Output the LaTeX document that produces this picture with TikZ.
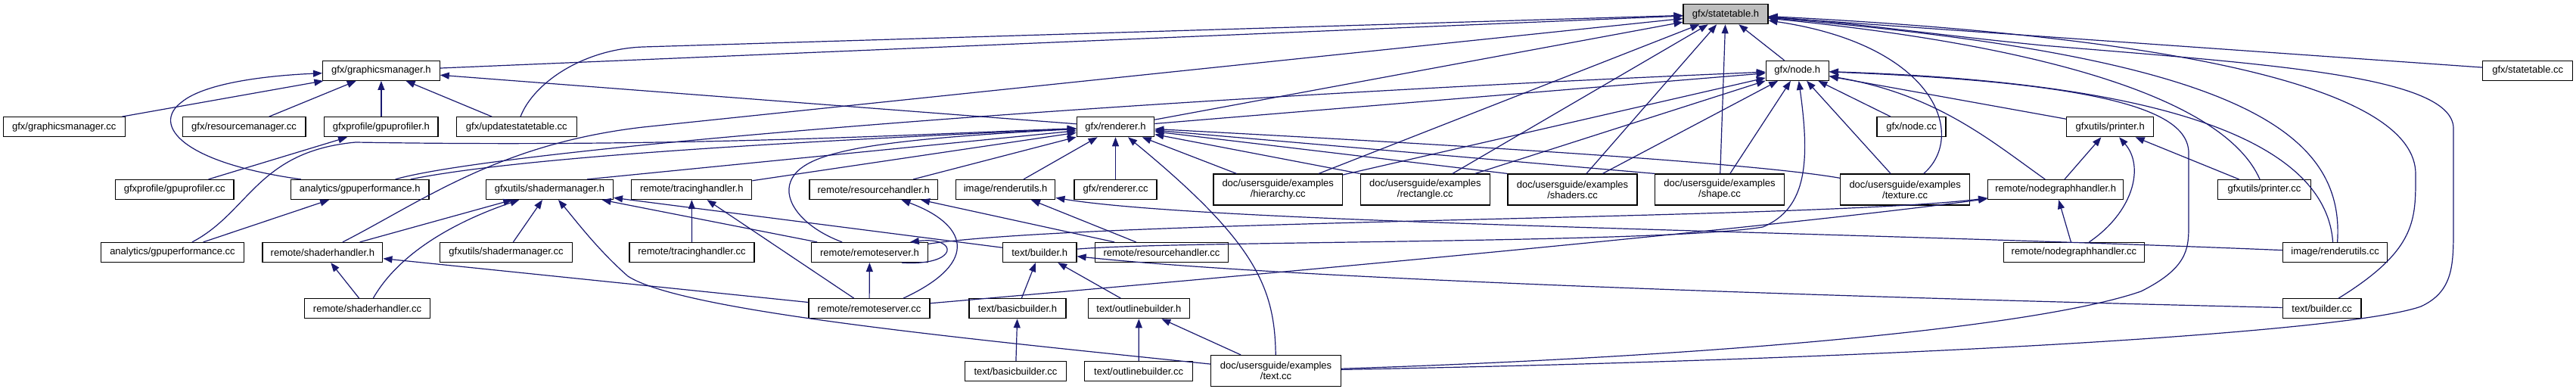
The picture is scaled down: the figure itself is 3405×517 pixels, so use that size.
\documentclass[tikz,border=0pt]{standalone}
\usepackage{fontspec}
\setmainfont{Liberation Sans}
\usetikzlibrary{arrows.meta}
\definecolor{edgec}{HTML}{191970}
\definecolor{rootfill}{HTML}{BFBFBF}
\begin{document}
\begin{tikzpicture}[x=1pt,y=-1pt,font=\fontsize{13}{14}\selectfont,
  nbox/.style={draw=black,fill=white,line width=1.2pt,inner sep=0pt,minimum height=26pt,align=center},
  dbox/.style={nbox,minimum height=41pt},
  conn/.style={draw=edgec,line width=1.2pt,-{Triangle[length=12pt,width=9pt]}}]
\useasboundingbox (0,0) rectangle (3405,517);
% row 0
\node[nbox,fill=rootfill,minimum width=112pt] (st_h) at (2281,18.7) {gfx/statetable.h};
% row 1
\node[nbox,minimum width=154.5pt] (gm_h) at (503.9,93.3) {gfx/graphicsmanager.h};
\node[nbox,minimum width=83pt] (node_h) at (2375.8,93.3) {gfx/node.h};
\node[nbox,minimum width=118.8pt] (st_cc) at (3341.2,93.3) {gfx/statetable.cc};
% row 2
\node[nbox,minimum width=161pt] (gm_cc) at (84.8,167.7) {gfx/graphicsmanager.cc};
\node[nbox,minimum width=162.7pt] (rm_cc) at (322.6,167.7) {gfx/resourcemanager.cc};
\node[nbox,minimum width=150.2pt] (gp_h) at (503.9,167.7) {gfxprofile/gpuprofiler.h};
\node[nbox,minimum width=158.8pt] (us_cc) at (682.8,167.7) {gfx/updatestatetable.cc};
\node[nbox,minimum width=102.4pt] (r_h) at (1474.5,167.7) {gfx/renderer.h};
\node[nbox,minimum width=91pt] (n_cc) at (2526.5,167.7) {gfx/node.cc};
\node[nbox,minimum width=115pt] (p_h) at (2789.2,167.7) {gfxutils/printer.h};
% row 3
\node[nbox,minimum width=156.7pt] (gp_cc) at (230.7,250.5) {gfxprofile/gpuprofiler.cc};
\node[nbox,minimum width=182.7pt] (ga_h) at (475.7,250.5) {analytics/gpuperformance.h};
\node[nbox,minimum width=168pt] (sm_h) at (726.4,250.5) {gfxutils/shadermanager.h};
\node[nbox,minimum width=158.9pt] (th_h) at (914.3,250.5) {remote/tracinghandler.h};
\node[nbox,minimum width=169.3pt] (rh_h) at (1154.7,250.5) {remote/resourcehandler.h};
\node[nbox,minimum width=131.5pt] (ru_h) at (1329.1,250.5) {image/renderutils.h};
\node[nbox,minimum width=109pt] (r_cc) at (1474.5,250.5) {gfx/renderer.cc};
\node[dbox,minimum width=170.3pt] (hier) at (1689.2,250.5) {doc/usersguide/examples\\/hierarchy.cc};
\node[dbox,minimum width=171.3pt] (rect) at (1883.8,250.5) {doc/usersguide/examples\\/rectangle.cc};
\node[dbox,minimum width=171pt] (shad) at (2078.5,250.5) {doc/usersguide/examples\\/shaders.cc};
\node[dbox,minimum width=170.6pt] (shape) at (2273,250.5) {doc/usersguide/examples\\/shape.cc};
\node[dbox,minimum width=171pt] (tex) at (2518.2,250.5) {doc/usersguide/examples\\/texture.cc};
\node[nbox,minimum width=179pt] (ngh_h) at (2717.2,250.5) {remote/nodegraphhandler.h};
\node[nbox,minimum width=122.7pt] (p_cc) at (2993,250.5) {gfxutils/printer.cc};
% row 4
\node[nbox,minimum width=189.1pt] (ga_cc) at (228,333.5) {analytics/gpuperformance.cc};
\node[nbox,minimum width=158.9pt] (sh_h) at (426.4,333.5) {remote/shaderhandler.h};
\node[nbox,minimum width=174.5pt] (sm_cc) at (669,333.5) {gfxutils/shadermanager.cc};
\node[nbox,minimum width=164.9pt] (th_cc) at (914.5,333.5) {remote/tracinghandler.cc};
\node[nbox,minimum width=153.4pt] (rs_h) at (1149.5,333.5) {remote/remoteserver.h};
\node[nbox,minimum width=97.6pt] (b_h) at (1374.2,333.5) {text/builder.h};
\node[nbox,minimum width=176.2pt] (rh_cc) at (1535.5,333.5) {remote/resourcehandler.cc};
\node[nbox,minimum width=186.4pt] (ngh_cc) at (2741.4,333.5) {remote/nodegraphhandler.cc};
\node[nbox,minimum width=138.5pt] (ru_cc) at (3086.6,333.5) {image/renderutils.cc};
% row 5
\node[nbox,minimum width=165.3pt] (sh_cc) at (485.5,407.7) {remote/shaderhandler.cc};
\node[nbox,minimum width=159.9pt] (rs_cc) at (1149,407.7) {remote/remoteserver.cc};
\node[nbox,minimum width=127.9pt] (bb_h) at (1345,407.7) {text/basicbuilder.h};
\node[nbox,minimum width=134.4pt] (ob_h) at (1505.4,407.7) {text/outlinebuilder.h};
\node[nbox,minimum width=103.6pt] (b_cc) at (3069.1,407.7) {text/builder.cc};
% row 6
\node[nbox,minimum width=133.8pt] (bb_cc) at (1342.5,490.5) {text/basicbuilder.cc};
\node[nbox,minimum width=142.6pt] (ob_cc) at (1505.1,490.5) {text/outlinebuilder.cc};
\node[dbox,minimum width=171.3pt] (txt) at (1686.5,490) {doc/usersguide/examples\\/text.cc};

% ---- edges into gfx/statetable.h
\draw[conn] (gm_h) -- (st_h);
\draw[conn] (us_cc) .. controls (705,110) and (770,65) .. (850,62) -- (st_h);
\draw[conn] (sh_h) .. controls (560,265) and (660,190) .. (850,168) -- (st_h);
\draw[conn] (r_h) -- (st_h);
\draw[conn] (hier) -- (st_h);
\draw[conn] (rect) -- (st_h);
\draw[conn] (shad) -- (st_h);
\draw[conn] (shape) -- (st_h);
\draw[conn] (node_h) -- (st_h);
\draw[conn] (tex) .. controls (2600,180) and (2560,60) .. (st_h);
\draw[conn] (p_cc) .. controls (2940,130) and (2700,60) .. (st_h);
\draw[conn] ([xshift=3pt]ru_cc.north) .. controls (3100,170) and (2950,75) .. (st_h);
\draw[conn] (st_cc) -- (st_h);
\draw[conn] (b_cc) .. controls (3195,330) and (3193,290) .. (3193,230) .. controls (3193,120) and (2900,50) .. (st_h);
\draw[conn] (txt) .. controls (2500,475) and (3100,440) .. (3200,405) .. controls (3243,385) and (3243,350) .. (3243,300) -- (3243,170) .. controls (3243,100) and (3000,85) .. (2700,60) .. controls (2550,45) and (2450,30) .. (st_h);

% ---- edges into gfx/node.h
\draw[conn] (r_h) -- (node_h);
\draw[conn] (ga_h) .. controls (650,200) and (1400,135) .. (node_h);
\draw[conn] (hier) -- (node_h);
\draw[conn] (rect) -- (node_h);
\draw[conn] (shad) -- (node_h);
\draw[conn] (shape) -- (node_h);
\draw[conn] (tex) -- (node_h);
\draw[conn] (n_cc) -- (node_h);
\draw[conn] (p_h) -- (node_h);
\draw[conn] ([xshift=-14pt]ngh_h.north) .. controls (2630,185) and (2560,125) .. (node_h);
\draw[conn] ([xshift=-3pt]ru_cc.north) .. controls (3075,200) and (2900,110) .. (node_h);
\draw[conn] (txt) .. controls (2300,470) and (2700,430) .. (2830,385) .. controls (2890,355) and (2893,330) .. (2893,300) -- (2893,200) .. controls (2890,150) and (2800,110) .. (node_h);
\draw[conn] (b_h) .. controls (1550,318) and (2200,322) .. (2330,300) .. controls (2390,275) and (2392,210) .. (node_h);

% ---- edges into gfx/renderer.h
\draw[conn] (ga_h) .. controls (700,205) and (1100,185) .. (r_h);
\draw[conn] (ga_cc) .. controls (330,280) and (340,200) .. (470,188) .. controls (900,195) and (1200,178) .. (r_h);
\draw[conn] ([xshift=-35pt]sm_h.north east) -- (r_h);
\draw[conn] (th_h) -- (r_h);
\draw[conn] (rh_h) -- (r_h);
\draw[conn] (ru_h) -- (r_h);
\draw[conn] (r_cc) -- (r_h);
\draw[conn] (txt) .. controls (1685,380) and (1660,320) .. (r_h);
\draw[conn] (hier) -- (r_h);
\draw[conn] (rect.north west) -- (r_h);
\draw[conn] (shad.north west) -- (r_h);
\draw[conn] (shape.north west) -- (r_h);
\draw[conn] (tex) .. controls (2300,212) and (1800,185) .. (r_h);
\draw[conn] (rs_h) .. controls (1060,300) and (1035,265) .. (1045,240) .. controls (1060,200) and (1150,185) .. (r_h);

% ---- edges into gfx/graphicsmanager.h
\draw[conn] (r_h) -- (gm_h);
\draw[conn] (gm_cc) -- (gm_h);
\draw[conn] (rm_cc) -- (gm_h);
\draw[conn] (gp_h) -- (gm_h);
\draw[conn] (us_cc) -- (gm_h);
\draw[conn] ([xshift=14pt]ga_h.north west) .. controls (240,215) and (200,165) .. (240,135) .. controls (270,110) and (350,100) .. (gm_h);

% ---- profiler / analytics
\draw[conn] (gp_cc) -- (gp_h);
\draw[conn] (ga_cc) -- (ga_h);

% ---- shadermanager / shaderhandler
\draw[conn] (sh_h) -- (sm_h);
\draw[conn] (sh_cc) .. controls (530,330) and (610,290) .. (sm_h);
\draw[conn] (sm_cc) -- (sm_h);
\draw[conn] (rs_h) -- (sm_h);
\draw[conn] (b_h) -- (sm_h);
\draw[conn] (txt) .. controls (1250,445) and (900,410) .. (830,365) .. controls (790,330) and (760,290) .. (sm_h);
\draw[conn] (sh_cc) -- (sh_h);
\draw[conn] (rs_cc) -- (sh_h);

% ---- remote
\draw[conn] (th_cc) -- (th_h);
\draw[conn] (rs_cc) -- (th_h);
\draw[conn] (rh_cc) -- (rh_h);
\draw[conn] ([xshift=45pt]rs_cc.north) .. controls (1300,345) and (1275,295) .. (rh_h);
\draw[conn] (rh_cc) -- (ru_h);
\draw[conn] (ru_cc) .. controls (2400,305) and (1600,295) .. (ru_h);
\draw[conn] (rs_cc) -- (rs_h);
\draw[conn] ([xshift=-35pt]rs_h.south east) .. controls (1268,352) and (1268,312) .. ([xshift=-24pt]rs_h.north east);
\draw[conn] (rs_h) .. controls (1450,290) and (2400,290) .. (ngh_h);
\draw[conn] (rs_cc) .. controls (1700,360) and (2350,300) .. (ngh_h);
\draw[conn] (ngh_cc) -- (ngh_h);

% ---- printer
\draw[conn] (ngh_h) -- (p_h);
\draw[conn] (ngh_cc) .. controls (2820,280) and (2835,220) .. (p_h);
\draw[conn] (p_cc) -- (p_h);

% ---- text builders
\draw[conn] (bb_h) -- (b_h);
\draw[conn] (ob_h) -- (b_h);
\draw[conn] (b_cc) .. controls (2400,392) and (1700,368) .. (b_h);
\draw[conn] (bb_cc) -- (bb_h);
\draw[conn] (ob_cc) -- (ob_h);
\draw[conn] (txt) -- (ob_h);
\end{tikzpicture}
\end{document}
